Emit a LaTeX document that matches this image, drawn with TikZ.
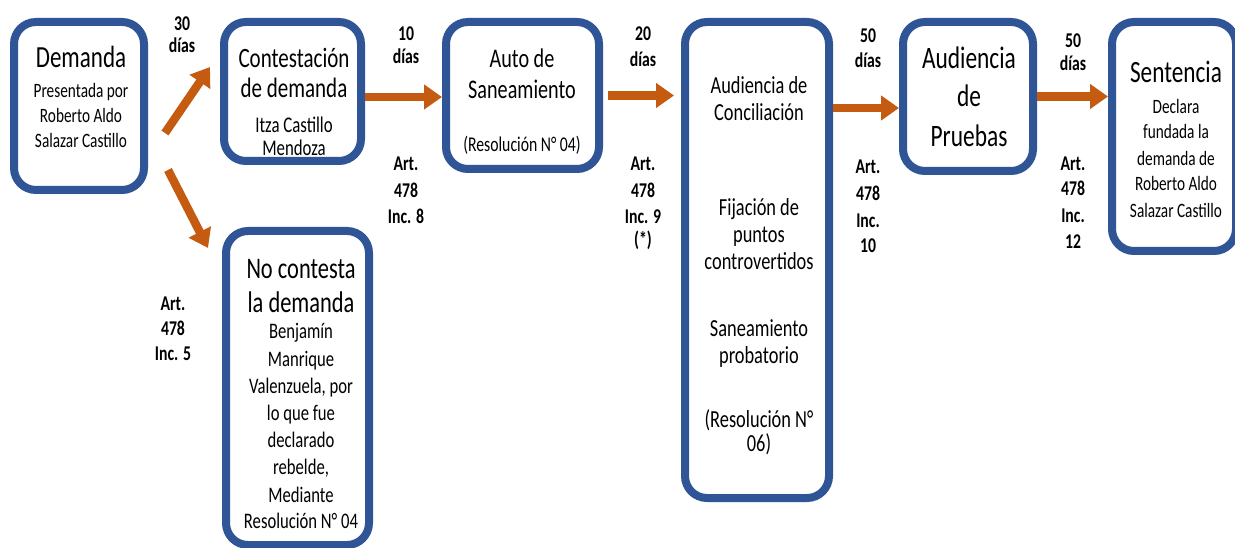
\documentclass[tikz,border=0pt]{standalone}
\usepackage{fontspec}
\setmainfont{Carlito}[FakeStretch=0.75]
\usetikzlibrary{arrows.meta}
\definecolor{boxblue}{RGB}{47,85,151}
\definecolor{arrorange}{RGB}{197,90,17}
\newcommand\fs[1]{\fontsize{#1}{0pt}\selectfont}
\newcommand\tfs[1]{\fontsize{#1}{0pt}\selectfont\lineskiplimit-1000pt\relax}
\newcommand\st{\rule{0pt}{30pt}}
\begin{document}
\begin{tikzpicture}[x=1pt,y=-1pt,
  box/.style={draw=boxblue, line width=8pt, rounded corners=22pt, fill=white, inner sep=0pt},
  txt/.style={align=center, inner sep=0pt, anchor=north, font={\tfs{20.4}}},
  lbl/.style={align=center, inner sep=0pt, anchor=north, font={\tfs{21}\bfseries}},
  arr/.style={draw=arrorange, line width=8.5pt, -{Triangle[length=18pt,width=24pt]}}
]
\useasboundingbox (0,0) rectangle (1235,548);
\fill[white] (0,0) rectangle (1235,548);

% boxes
\node[box, minimum width=130pt, minimum height=168pt] (dem) at (79,106) {};
\node[box, minimum width=137pt, minimum height=139pt] (con) at (292.5,91.5) {};
\node[box, minimum width=153pt, minimum height=147pt] (auto) at (522.5,95.5) {};
\node[box, minimum width=144pt, minimum height=476pt] (conc) at (757,260) {};
\node[box, minimum width=130pt, minimum height=149pt] (prue) at (968,96.5) {};
\node[box, minimum width=124pt, minimum height=229pt] (sent) at (1174,136.5) {};
\node[box, minimum width=143pt, minimum height=314pt] (noc) at (297.5,388) {};

% box texts
\node[txt] (demt) at (81,37) {\st\fs{30.7}Demanda\\[30pt]Presentada por\\[25pt]Roberto Aldo\\[25pt]Salazar Castillo};
\node[txt] (cont) at (294,37) {\st\fs{28}Contestación\\[30pt]\fs{28}de demanda\\[35pt]\fs{22.4}Itza Castillo\\[23pt]\fs{22.4}Mendoza};
\node[txt] (autot) at (522,37) {\st\fs{26.9}Auto de\\[31pt]\fs{26.9}Saneamiento\\[53pt]\fs{21}(Resolución N° 04)};
\node[txt, font={\tfs{24.5}}] (conct) at (759,63) {\st Audiencia de\\[27pt]Conciliación\\[95pt]Fijación de\\[27pt]puntos\\[27pt]controvertidos\\[67pt]Saneamiento\\[27pt]probatorio\\[64pt](Resolución N°\\[24pt]06)};
\node[txt, font={\tfs{31.2}}] (pruet) at (969,38) {\st Audiencia\\[38pt]de\\[40pt]Pruebas};
\node[txt, font={\tfs{20.4}}] (sentt) at (1176,52) {\st\fs{31}Sentencia\\[31pt]Declara\\[25pt]fundada la\\[27pt]demanda de\\[25pt]Roberto Aldo\\[27pt]Salazar Castillo};
\node[txt, font={\tfs{22.2}}] (noct) at (301,248) {\st\fs{29.9}No contesta\\[34pt]\fs{29.9}la demanda\\[26pt]Benjamín\\[28pt]Manrique\\[27pt]Valenzuela, por\\[27pt]lo que fue\\[27pt]declarado\\[27pt]rebelde,\\[28pt]Mediante\\[26pt]Resolución N° 04};

% labels
\node[lbl] (l30) at (182,0) {\st 30\\[22pt]días};
\node[lbl] (l10) at (406,10) {\st 10\\[23pt]días};
\node[lbl] (l20) at (643,10) {\st 20\\[26pt]días};
\node[lbl] (l50a) at (868,12) {\st 50\\[25pt]días};
\node[lbl] (l50b) at (1073,17) {\st 50\\[23pt]días};
\node[lbl] (a8) at (406,140) {\st Art.\\[27pt]478\\[26pt]Inc. 8};
\node[lbl] (a9) at (643,140) {\st Art.\\[27pt]478\\[26pt]Inc. 9\\[23pt](*)};
\node[lbl] (a10) at (868,143) {\st Art.\\[27pt]478\\[27pt]Inc.\\[25pt]10};
\node[lbl] (a12) at (1073,140) {\st Art.\\[25pt]478\\[27pt]Inc.\\[26pt]12};
\node[lbl] (a5) at (173,280) {\st Art.\\[25pt]478\\[25pt]Inc. 5};

% arrows
\draw[arr] ([shift={(17,27)}]dem.east) -- ([shift={(-10,-24.5)}]con.west);
\draw[arr] ([shift={(20,64)}]dem.east) -- ([shift={(-14,-140)}]noc.west);
\coordinate (p1) at ([shift={(0,5.5)}]con.east);
\draw[arr] (p1) -- (p1 -| auto.west);
\draw[arr, shorten <=5pt, shorten >=7pt] (auto.east) -- (auto.east -| conc.west);
\coordinate (p3) at ([shift={(0,11.5)}]prue.west);
\draw[arr] (conc.east |- p3) -- (p3);
\draw[arr] (prue.east) -- (prue.east -| sent.west);
\end{tikzpicture}
\end{document}
